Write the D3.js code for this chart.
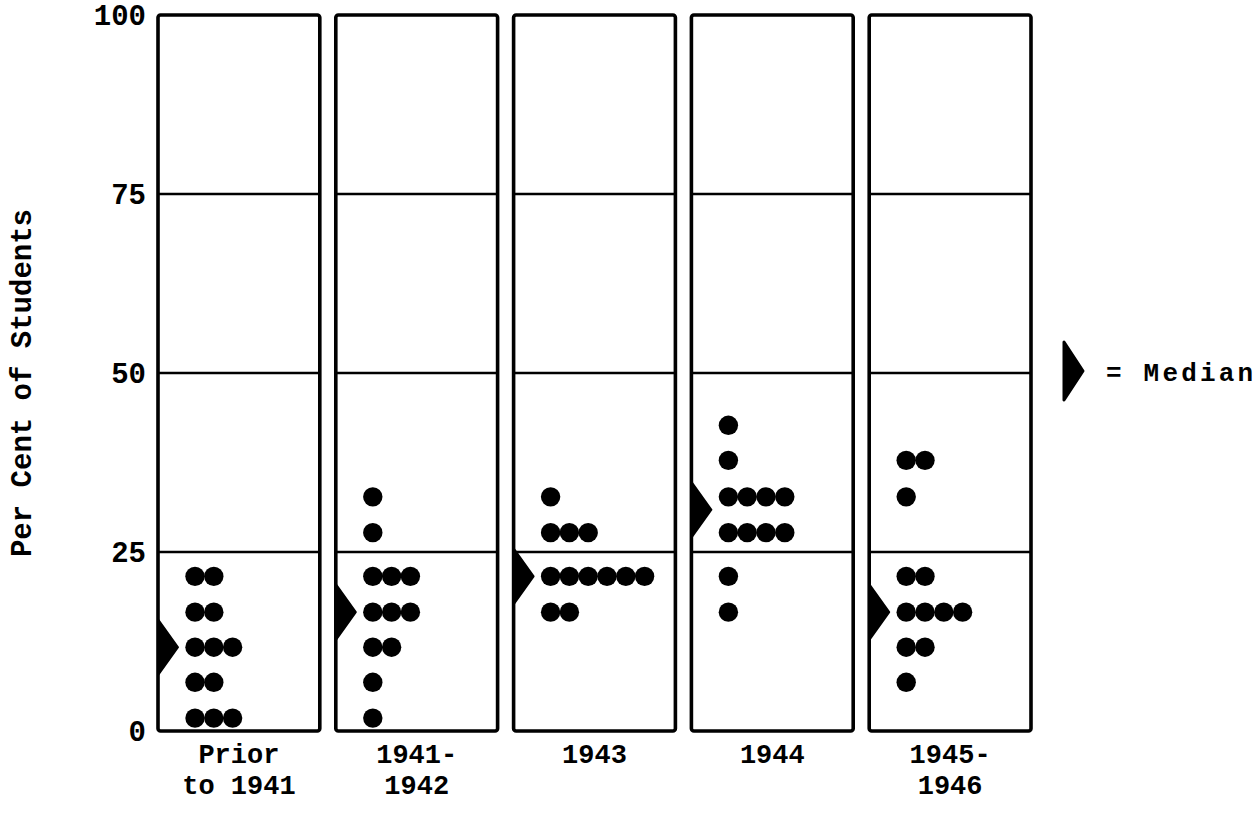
<!DOCTYPE html>
<html>
<head>
<meta charset="utf-8">
<script src="https://cdn.jsdelivr.net/npm/d3@7"></script>
<style>
  html, body { margin: 0; padding: 0; background: #fff; }
  svg { display: block; }
  text { font-family: "Liberation Mono", "Courier New", monospace; font-weight: bold; fill: #000; }
</style>
</head>
<body>
<svg id="chart" width="1260" height="813"></svg>
<script>
// ---- data ----
const categories = ["Prior|to 1941", "1941-|1942", "1943", "1944", "1945-|1946"];
// row levels (per cent of students) at which dots are stacked
const rowLevels = [1.8, 6.8, 11.7, 16.6, 21.6, 27.7, 32.7, 37.8, 42.7];
// number of dots in each row, one array per category
const countsPrior1941 = [3, 2, 3, 2, 2, 0, 0, 0, 0];
const counts19411942  = [1, 1, 2, 3, 3, 1, 1, 0, 0];
const counts1943      = [0, 0, 0, 2, 6, 3, 1, 0, 0];
const counts1944      = [0, 0, 0, 1, 1, 4, 4, 1, 1];
const counts19451946  = [0, 1, 2, 4, 2, 0, 1, 2, 0];
const allCounts = [countsPrior1941, counts19411942, counts1943, counts1944, counts19451946];
const medians = [11.7, 16.6, 21.6, 30.9, 16.6];
const yTicks = [0, 25, 50, 75, 100];
const gridLines = [25, 50, 75];

// ---- layout ----
const svg = d3.select("#chart");
const x = d3.scaleBand().domain(categories).range([158, 1031]).paddingInner(0.09).paddingOuter(0);
const y = d3.scaleLinear().domain([0, 100]).range([731, 15]);
const dotX = d3.scaleLinear().domain([0, 1]).range([37, 55.8]);
const dotR = 9.7;

// panels
const panels = svg.append("g").selectAll("g").data(categories).join("g")
  .attr("transform", d => `translate(${x(d)},0)`);

panels.append("rect")
  .attr("x", 0).attr("y", y(100))
  .attr("width", x.bandwidth()).attr("height", y(0) - y(100))
  .attr("rx", 2.5)
  .attr("fill", "none").attr("stroke", "#000").attr("stroke-width", 3.6);

panels.selectAll("line.grid").data(gridLines).join("line")
  .attr("class", "grid")
  .attr("x1", 0).attr("x2", x.bandwidth())
  .attr("y1", d => y(d)).attr("y2", d => y(d))
  .attr("stroke", "#000").attr("stroke-width", 2.6);

// dots
const dots = [];
categories.forEach((c, ci) => {
  allCounts[ci].forEach((n, ri) => {
    for (let k = 0; k < n; k++) dots.push({ c, v: rowLevels[ri], k });
  });
});
svg.append("g").selectAll("circle").data(dots).join("circle")
  .attr("cx", d => x(d.c) + dotX(d.k))
  .attr("cy", d => y(d.v))
  .attr("r", dotR)
  .attr("fill", "#000");

// median markers
function markerPath(x0, yc, w, h) {
  return `M${x0},${yc - h / 2} L${x0 + w},${yc} L${x0},${yc + h / 2} Z`;
}
svg.append("g").selectAll("path").data(categories).join("path")
  .attr("d", (d, i) => markerPath(x(d), y(medians[i]), 20, 56))
  .attr("fill", "#000").attr("stroke", "#000").attr("stroke-width", 2)
  .attr("stroke-linejoin", "round");

// y axis labels
const yAxis = d3.axisLeft(y).tickValues(yTicks).tickSize(0).tickPadding(12).tickFormat(d3.format("d"));
const ya = svg.append("g").attr("transform", "translate(158,0)").call(yAxis);
ya.select(".domain").remove();
ya.selectAll("text")
  .style("font-family", "'Liberation Mono', monospace")
  .style("font-weight", "bold")
  .style("font-size", "29px")
  .attr("fill", "#000");

// y title
svg.append("text")
  .attr("transform", "translate(31,383) rotate(-90)")
  .attr("text-anchor", "middle")
  .style("font-size", "29px")
  .text("Per Cent of Students");

// category labels
const catG = svg.append("g").selectAll("text").data(categories).join("text")
  .attr("text-anchor", "middle")
  .style("font-size", "27px");
catG.each(function (d) {
  const lines = d.split("|");
  d3.select(this).selectAll("tspan").data(lines).join("tspan")
    .attr("x", x(d) + x.bandwidth() / 2)
    .attr("y", (l, i) => 763 + i * 31)
    .text(l => l);
});

// legend
svg.append("path")
  .attr("d", markerPath(1064, 371, 19, 58))
  .attr("fill", "#000").attr("stroke", "#000").attr("stroke-width", 3)
  .attr("stroke-linejoin", "round");
svg.append("text")
  .attr("x", 1106).attr("y", 381)
  .style("font-size", "26px")
  .style("letter-spacing", "3.2px")
  .text("= Median");
</script>
</body>
</html>
